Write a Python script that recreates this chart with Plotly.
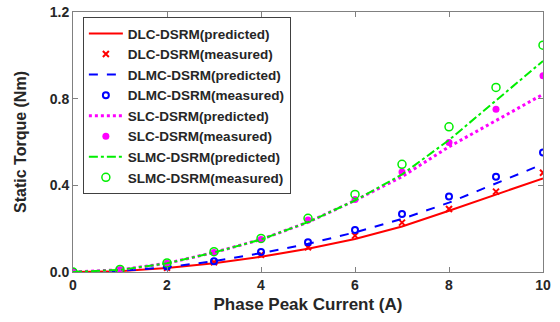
import plotly.graph_objects as go

current = [0, 1, 2, 3, 4, 5, 6, 7, 8, 9, 10]

dlc_pred = [0, 0.004, 0.018, 0.04, 0.07, 0.107, 0.152, 0.21, 0.283, 0.359, 0.432]
dlc_meas = [0, 0.005, 0.02, 0.045, 0.08, 0.114, 0.168, 0.228, 0.291, 0.371, 0.458]
dlmc_pred = [0, 0.005, 0.022, 0.05, 0.087, 0.13, 0.183, 0.245, 0.32, 0.41, 0.498]
dlmc_meas = [0, 0.006, 0.025, 0.05, 0.092, 0.137, 0.194, 0.268, 0.348, 0.44, 0.551]
slc_pred = [0, 0.01, 0.04, 0.09, 0.15, 0.23, 0.33, 0.44, 0.578, 0.70, 0.82]
slc_meas = [0, 0.01, 0.04, 0.09, 0.15, 0.24, 0.335, 0.461, 0.598, 0.751, 0.906]
slmc_pred = [0, 0.01, 0.04, 0.09, 0.15, 0.23, 0.33, 0.45, 0.609, 0.79, 0.974]
slmc_meas = [0, 0.012, 0.042, 0.094, 0.155, 0.248, 0.358, 0.497, 0.67, 0.852, 1.047]

RED, BLUE, MAG, GREEN = "#ff0000", "#0000ff", "#ff00ff", "#00ee00"

fig = go.Figure()
fig.add_trace(go.Scatter(x=current, y=dlc_pred, mode="lines", name="DLC-DSRM(predicted)",
                         line=dict(color=RED, width=2)))
fig.add_trace(go.Scatter(x=current, y=dlc_meas, mode="markers", name="DLC-DSRM(measured)",
                         marker=dict(symbol="x-thin-open", color=RED, size=6, line=dict(width=2, color=RED))))
fig.add_trace(go.Scatter(x=current, y=dlmc_pred, mode="lines", name="DLMC-DSRM(predicted)",
                         line=dict(color=BLUE, width=2, dash="dash")))
fig.add_trace(go.Scatter(x=current, y=dlmc_meas, mode="markers", name="DLMC-DSRM(measured)",
                         marker=dict(symbol="circle-open", color=BLUE, size=6, line=dict(width=2, color=BLUE))))
fig.add_trace(go.Scatter(x=current, y=slc_pred, mode="lines", name="SLC-DSRM(predicted)",
                         line=dict(color=MAG, width=3, dash="dot")))
fig.add_trace(go.Scatter(x=current, y=slc_meas, mode="markers", name="SLC-DSRM(measured)",
                         marker=dict(symbol="circle", color=MAG, size=7)))
fig.add_trace(go.Scatter(x=current, y=slmc_pred, mode="lines", name="SLMC-DSRM(predicted)",
                         line=dict(color=GREEN, width=2, dash="dashdot")))
fig.add_trace(go.Scatter(x=current, y=slmc_meas, mode="markers", name="SLMC-DSRM(measured)",
                         marker=dict(symbol="circle-open", color=GREEN, size=8, line=dict(width=1.5, color=GREEN))))

axis_common = dict(showgrid=False, zeroline=False, showline=True, linecolor="#808080", linewidth=1,
                   mirror="ticks", ticks="inside", ticklen=5, tickcolor="#808080", automargin=False,
                   tickfont=dict(family="Arial", size=14, color="#262626", weight="bold"))

fig.update_xaxes(range=[0, 10], dtick=2, tick0=0,
                 title=dict(text="Phase Peak Current (A)", standoff=6,
                            font=dict(family="Arial", size=17, color="#262626", weight="bold")),
                 **axis_common)
fig.update_yaxes(range=[0, 1.2], dtick=0.4, tick0=0, tickformat=".1f",
                 title=dict(text="Static Torque (Nm)", standoff=19,
                            font=dict(family="Arial", size=16, color="#262626", weight="bold")),
                 **axis_common)

fig.update_layout(
    width=560, height=322,
    margin=dict(l=73, r=17, t=12, b=50),
    plot_bgcolor="white", paper_bgcolor="white",
    legend=dict(x=0.021, y=0.98, xanchor="left", yanchor="top",
                bgcolor="white", bordercolor="#404040", borderwidth=1,
                font=dict(family="Arial", size=13.5, color="#262626", weight="bold"),
                tracegroupgap=0, itemwidth=34),
    showlegend=True,
)

fig.write_html("out.html")
